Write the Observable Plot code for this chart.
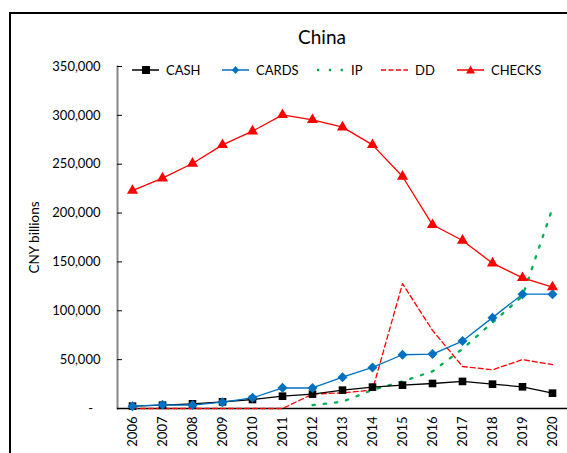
<!DOCTYPE html>
<html>
<head>
<meta charset="utf-8">
<script src="https://cdn.jsdelivr.net/npm/d3@7"></script>
<script src="https://cdn.jsdelivr.net/npm/@observablehq/plot@0.6"></script>
<style>
  html, body { margin: 0; padding: 0; background: #fff; overflow: hidden; }
  #wrap { position: relative; width: 567px; height: 453px; overflow: hidden; font-family: Lato, "Open Sans", sans-serif; }
  #border { position: absolute; left: 9px; top: 12px; width: 625px; height: 480px; border: 2px solid #000; box-sizing: border-box; }
  #title { position: absolute; left: 222px; width: 200px; top: 25px; text-align: center; font-size: 19px; color: #000; }
  #chart { position: absolute; left: 0; top: 0; }
  #legend { position: absolute; left: 0; top: 62px; width: 567px; height: 16px; font-size: 13px; color: #000; }
  .item { position: absolute; top: 0; display: flex; align-items: center; white-space: nowrap; }
  .item svg { margin-right: 7px; }
</style>
</head>
<body>
<div id="wrap">
  <div id="border"></div>
  <div id="chart"></div>
  <div id="title">China</div>
  <div id="legend"></div>
</div>
<script>
const years = ["2006","2007","2008","2009","2010","2011","2012","2013","2014","2015","2016","2017","2018","2019","2020"];
const cash   = [2400, 3400, 4800, 6800, 9200, 12600, 14700, 18800, 21900, 23900, 25600, 27700, 24900, 22200, 15700];
const cards  = [2400, 3800, 3500, 6500, 10900, 21200, 21000, 32000, 42000, 55000, 55700, 69000, 93000, 117000, 117000];
const ip     = [null, null, null, null, null, null, 3400, 7000, 19000, 27700, 38000, 61000, 88000, 115000, 205000];
const dd     = [0, 0, 0, 0, 0, 0, 14700, 16000, 19000, 127700, 80000, 43000, 39600, 50000, 45000];
const checks = [223000, 235700, 250700, 269800, 283800, 300500, 295400, 287900, 269800, 237400, 188000, 171900, 148700, 133700, 124200];
const yTicks = [0, 50000, 100000, 150000, 200000, 250000, 300000, 350000];
const seriesNames = ["CASH", "CARDS", "IP", "DD", "CHECKS"];

const colors = {CASH: "#000000", CARDS: "#0070C0", IP: "#00B050", DD: "#FF0000", CHECKS: "#FF0000"};

function rows(vals) { return years.map((y, i) => ({year: y, value: vals[i]})); }
const cashRows = rows(cash), cardsRows = rows(cards), ipRows = rows(ip), ddRows = rows(dd), checksRows = rows(checks);

const fmt = d => d === 0 ? "-\u2007" : d3.format(",")(d);

const chart = Plot.plot({
  width: 567,
  height: 453,
  marginLeft: 117,
  marginRight: 0,
  marginTop: 66,
  marginBottom: 45,
  style: {fontFamily: "Lato, 'Open Sans', sans-serif", fontSize: "13px", color: "#000", background: "transparent", overflow: "visible"},
  x: {type: "point", domain: years, padding: 0.5},
  y: {domain: [0, 350000]},
  marks: [
    Plot.frame({anchor: "left", stroke: "#888888", strokeWidth: 2}),
    Plot.axisY({ticks: yTicks, tickSize: 0, tickPadding: 17, tickFormat: fmt, fontSize: 13, label: null}),
    Plot.axisY({ticks: yTicks.filter(d => d > 0), tickSize: -5, tickFormat: () => "", label: null, stroke: "#000"}),
    Plot.axisX({tickSize: 0, tickRotate: -90, tickPadding: 8, fontSize: 13, label: null}),
    Plot.text(["CNY billions"], {frameAnchor: "left", textAnchor: "middle", dx: -83, rotate: -90, fontSize: 13.5, fill: "#000"}),
    Plot.ruleY([0], {stroke: "#000", strokeWidth: 1.5}),
    Plot.line(ddRows, {x: "year", y: "value", stroke: colors.DD, strokeWidth: 1.3, strokeDasharray: "5,3"}),
    Plot.line(ipRows, {x: "year", y: "value", stroke: colors.IP, strokeWidth: 2.3, strokeDasharray: "2.3,9", defined: d => d.value != null}),
    Plot.line(cashRows, {x: "year", y: "value", stroke: colors.CASH, strokeWidth: 1.3}),
    Plot.dot(cashRows, {x: "year", y: "value", symbol: "square", r: 4.3, fill: colors.CASH, stroke: "none"}),
    Plot.line(cardsRows, {x: "year", y: "value", stroke: colors.CARDS, strokeWidth: 1.3}),
    Plot.dot(cardsRows, {x: "year", y: "value", symbol: "diamond2", r: 4.5, fill: colors.CARDS, stroke: "none"}),
    Plot.line(checksRows, {x: "year", y: "value", stroke: colors.CHECKS, strokeWidth: 1.3}),
    Plot.dot(checksRows, {x: "year", y: "value", symbol: "triangle2", r: 5.3, fill: colors.CHECKS, stroke: "none"})
  ]
});
document.getElementById("chart").appendChild(chart);

// legend
const legendLeft = {CASH: 132, CARDS: 222, IP: 317, DD: 381, CHECKS: 457};
const swatch = {
  CASH: `<line x1="0" y1="7" x2="27" y2="7" stroke="#000" stroke-width="1.5"/><rect x="10" y="3" width="8" height="8" fill="#000"/>`,
  CARDS: `<line x1="0" y1="7" x2="27" y2="7" stroke="#0070C0" stroke-width="1.5"/><path d="M13.5,3 L17,7 L13.5,11 L10,7Z" fill="#0070C0"/>`,
  IP: `<line x1="0" y1="7" x2="27" y2="7" stroke="#00B050" stroke-width="2.3" stroke-dasharray="2.3,9.5"/>`,
  DD: `<line x1="0" y1="7" x2="27" y2="7" stroke="#FF0000" stroke-width="1.3" stroke-dasharray="5,2.5"/>`,
  CHECKS: `<line x1="0" y1="7" x2="27" y2="7" stroke="#FF0000" stroke-width="1.5"/><path d="M13.5,2.5 L18,10.5 L9,10.5Z" fill="#FF0000"/>`
};
const leg = document.getElementById("legend");
seriesNames.forEach(n => {
  const el = document.createElement("div");
  el.className = "item";
  el.style.left = legendLeft[n] + "px";
  el.innerHTML = `<svg width="27" height="14">${swatch[n]}</svg><span>${n}</span>`;
  leg.appendChild(el);
});
</script>
</body>
</html>
